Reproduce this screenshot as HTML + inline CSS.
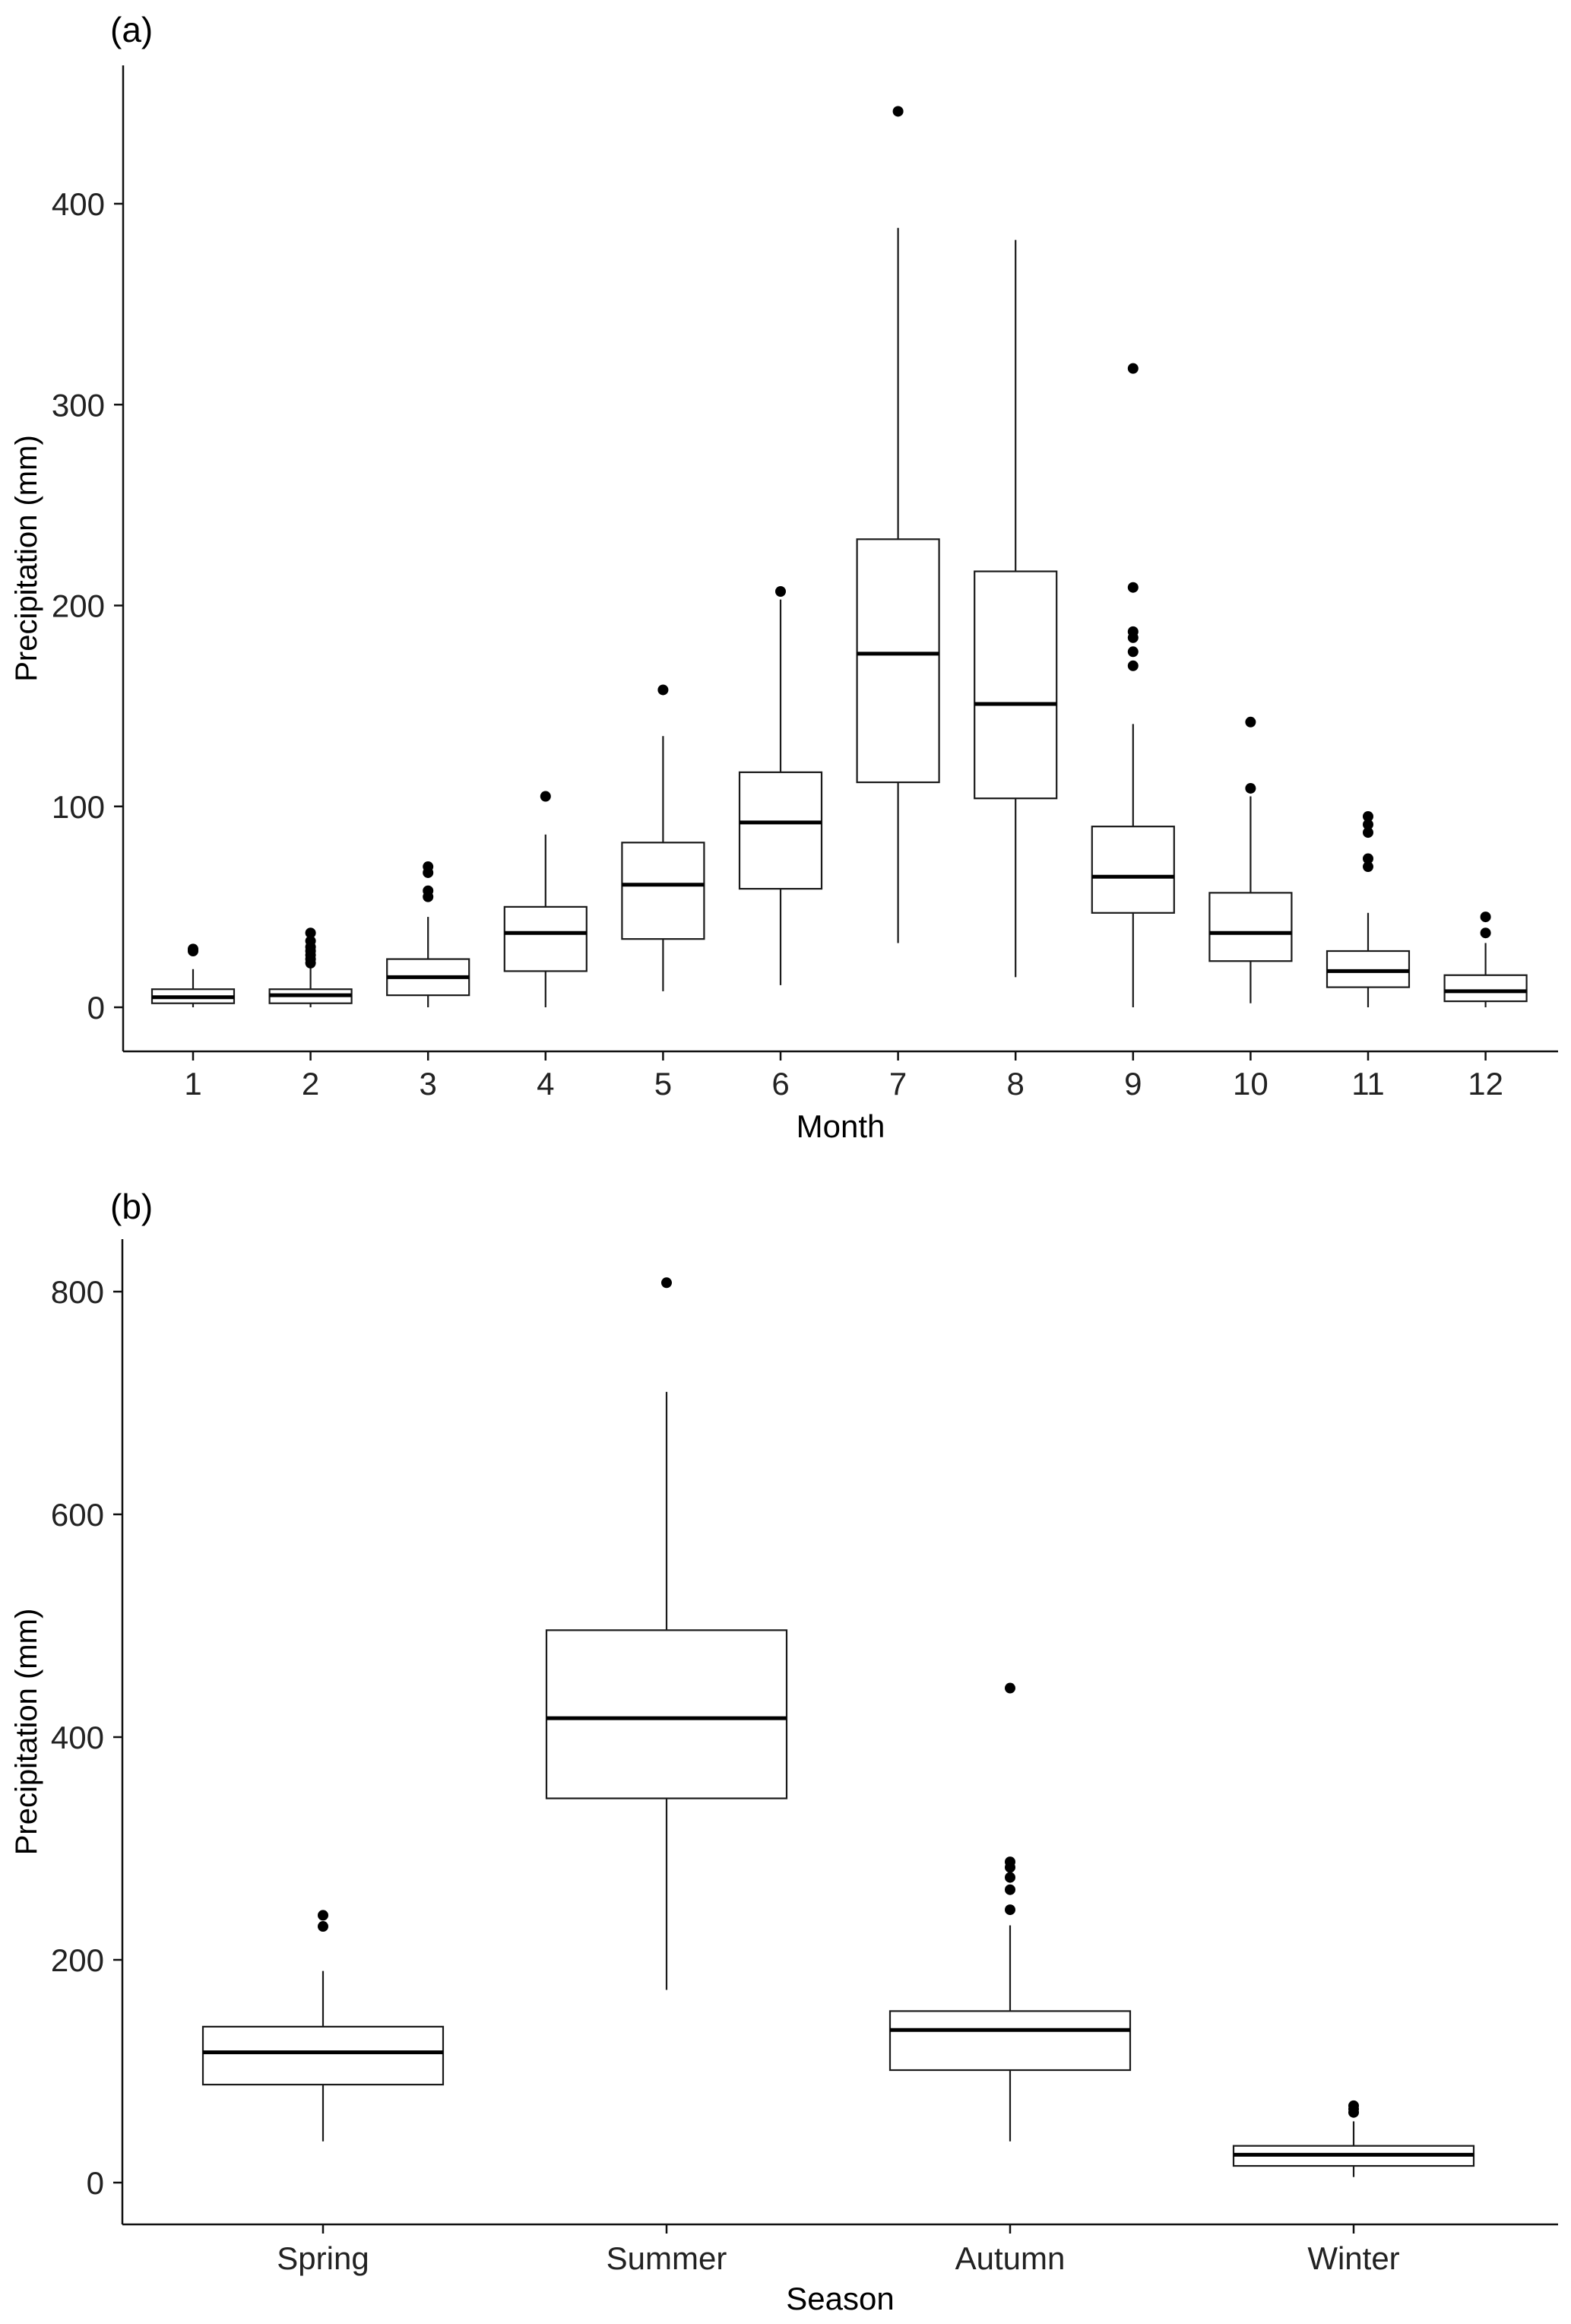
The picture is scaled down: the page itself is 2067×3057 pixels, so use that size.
<!DOCTYPE html>
<html><head><meta charset="utf-8"><style>
html,body{margin:0;padding:0;background:#fff;}
svg{display:block;font-family:"Liberation Sans",Arial,sans-serif;}
</style></head><body>
<svg id="chart" width="2067" height="3057" viewBox="0 0 2067 3057" xmlns="http://www.w3.org/2000/svg">
<g id="pa"></g>
<g id="pb"></g>
</svg>
<script>
// Panel (a) data: monthly precipitation
const months = ["1","2","3","4","5","6","7","8","9","10","11","12"];
const mLow = [0,0,0,0,8,11,32,15,0,2,0,0];
const mQ1  = [2,2,6,18,34,59,112,104,47,23,10,3];
const mMed = [5,6,15,37,61,92,176,151,65,37,18,8];
const mQ3  = [9,9,24,50,82,117,233,217,90,57,28,16];
const mHigh= [19,20,45,86,135,203,388,382,141,105,47,32];
const mOut = [[28,29],[22,24,26,28,30,33,37],[55,58,67,70],[105],[158],[207],[446],[],[170,177,184,187,209,318],[109,142],[70,74,87,91,95],[37,45]];
const aTicks = [0,100,200,300,400];

// Panel (b) data: seasonal precipitation
const seasons = ["Spring","Summer","Autumn","Winter"];
const sLow = [37,173,37,5];
const sQ1  = [88,345,101,15];
const sMed = [117,417,137,25];
const sQ3  = [140,496,154,33];
const sHigh= [190,710,231,55];
const sOut = [[230,240],[808],[245,263,274,283,288,444],[63,66,69]];
const bTicks = [0,200,400,600,800];

const NS="http://www.w3.org/2000/svg";
function mk(parent,tag,attrs,text){const e=document.createElementNS(NS,tag);for(const k in attrs)e.setAttribute(k,attrs[k]);if(text!==undefined)e.textContent=text;parent.appendChild(e);return e;}

function panel(g,cfg){
  const {x0,yTop,yBot,xRight,y0,pxPerUnit,cats,cx0,step,boxW,low,q1,med,q3,high,out,ticks,label,labelY,xTitle,xTitleY,catLabelY,prefix}=cfg;
  const Y=v=>y0-v*pxPerUnit;
  const X=i=>cx0+i*step;
  let e;
  e=mk(g,'text',{x:145,y:labelY,'font-size':46,fill:'#000'},label);
  
  
  e=mk(g,'line',{x1:x0,y1:yTop,x2:x0,y2:yBot,stroke:'#111',"stroke-width":2.5});
  
  
  e=mk(g,'line',{x1:x0,y1:yBot,x2:xRight,y2:yBot,stroke:'#111',"stroke-width":2.5});
  
  
  ticks.forEach(t=>{
    e=mk(g,'line',{x1:x0-12,y1:Y(t),x2:x0,y2:Y(t),stroke:'#111',"stroke-width":2.5});
    
    
    e=mk(g,'text',{x:x0-24,y:Y(t)+15,'font-size':42,'text-anchor':'end',fill:'#222'},String(t));
    
    
  });
  e=mk(g,'text',{x:0,y:0,'font-size':40,'text-anchor':'middle',fill:'#000',transform:`translate(48,${(yTop+yBot)/2}) rotate(-90)`},'Precipitation (mm)');
  
  
  e=mk(g,'text',{x:(x0+xRight)/2,y:xTitleY,'font-size':42,'text-anchor':'middle',fill:'#000'},xTitle);
  
  
  cats.forEach((c,i)=>{
    const cx=X(i);
    e=mk(g,'line',{x1:cx,y1:yBot,x2:cx,y2:yBot+12,stroke:'#111',"stroke-width":2.5});
    
    
    e=mk(g,'text',{x:cx,y:catLabelY,'font-size':42,'text-anchor':'middle',fill:'#222'},c);
    
    
    const bg=mk(g,'g',{});
    
    
    mk(bg,'line',{x1:cx,y1:Y(high[i]),x2:cx,y2:Y(q3[i]),stroke:'#1a1a1a','stroke-width':2.2});
    mk(bg,'line',{x1:cx,y1:Y(q1[i]),x2:cx,y2:Y(low[i]),stroke:'#1a1a1a','stroke-width':2.2});
    mk(bg,'rect',{x:cx-boxW/2,y:Y(q3[i]),width:boxW,height:Y(q1[i])-Y(q3[i]),fill:'#fff',stroke:'#1a1a1a','stroke-width':2.2});
    mk(bg,'line',{x1:cx-boxW/2,y1:Y(med[i]),x2:cx+boxW/2,y2:Y(med[i]),stroke:'#000','stroke-width':5});
    out[i].forEach(v=>{
      const p=mk(g,'circle',{cx:cx,cy:Y(v),r:7,fill:'#000'});
      
      
    });
  });
}

panel(document.getElementById('pa'),{x0:162,yTop:86,yBot:1383,xRight:2050,y0:1325,pxPerUnit:2.6425,
  cats:months,cx0:254,step:154.6,boxW:108,low:mLow,q1:mQ1,med:mMed,q3:mQ3,high:mHigh,out:mOut,ticks:aTicks,
  label:'(a)',labelY:55,xTitle:'Month',xTitleY:1496,catLabelY:1440,prefix:'a'});
panel(document.getElementById('pb'),{x0:161,yTop:1630,yBot:2926,xRight:2050,y0:2871,pxPerUnit:1.465,
  cats:seasons,cx0:425,step:452,boxW:316,low:sLow,q1:sQ1,med:sMed,q3:sQ3,high:sHigh,out:sOut,ticks:bTicks,
  label:'(b)',labelY:1603,xTitle:'Season',xTitleY:3038,catLabelY:2985,prefix:'b'});
</script>
</body></html>
